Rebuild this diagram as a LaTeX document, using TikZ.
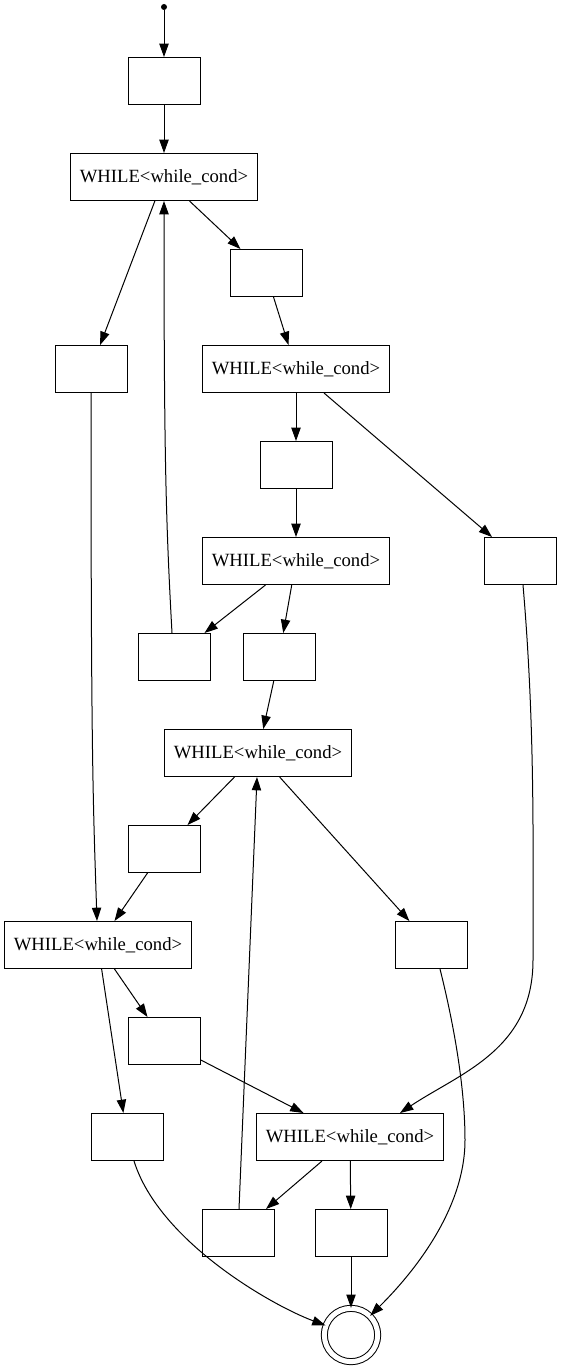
\documentclass[tikz,border=0pt]{standalone}
\usepackage{fontspec}
\setmainfont{Liberation Serif}
\usetikzlibrary{arrows.meta}

\begin{document}
\begin{tikzpicture}[x=0.75pt, y=-0.75pt, >={Triangle[length=10pt,width=7pt]},
    line width=0.75pt,
    blk/.style={draw, rectangle, minimum width=54pt, minimum height=35.25pt, inner xsep=7pt,
        font=\fontsize{14}{16}\selectfont},
    flow/.style={->}]
    \useasboundingbox (0,0) rectangle (562,1370);

    \node[circle, fill, inner sep=0pt, minimum size=4.5pt] (start) at (164,7) {};
    \node[blk] (b1) at (164,81) {};
    \node[blk] (w1) at (164,177) {WHILE<while\_cond>};
    \node[blk] (b2) at (266,273) {};
    \node[blk] (b3) at (91,369) {};
    \node[blk] (w2) at (296,369) {WHILE<while\_cond>};
    \node[blk] (b4) at (296,465) {};
    \node[blk] (w3) at (296,561) {WHILE<while\_cond>};
    \node[blk] (b5) at (520,561) {};
    \node[blk] (b6) at (174,657) {};
    \node[blk] (b7) at (279,657) {};
    \node[blk] (w4) at (258,753) {WHILE<while\_cond>};
    \node[blk] (b8) at (164,849) {};
    \node[blk] (w5) at (98,945) {WHILE<while\_cond>};
    \node[blk] (b9) at (431,945) {};
    \node[blk] (b10) at (164,1041) {};
    \node[blk] (b11) at (127,1137) {};
    \node[blk] (w6) at (350,1137) {WHILE<while\_cond>};
    \node[blk] (b12) at (238,1233) {};
    \node[blk] (b13) at (351,1233) {};
    \node[draw, circle, double, double distance=3.75pt, minimum size=40pt, inner sep=0pt] (stop) at (351,1335) {};

    \draw[flow] (start) -- (b1);
    \draw[flow] (b1) -- (w1);
    \draw[flow] (w1) -- (b2);
    \draw[flow] (w1) -- (b3);
    \draw[flow] (b2) -- (w2);
    \draw[flow] (w2) -- (b4);
    \draw[flow] (w2) -- (b5);
    \draw[flow] (b4) -- (w3);
    \draw[flow] (w3) -- (b6);
    \draw[flow] (w3) -- (b7);
    \draw[flow] ([xshift=-1.5pt]b6.north) .. controls +(-6,-110) and +(0,260) .. (w1.south);
    \draw[flow] (b7) -- (w4);
    \draw[flow] (w4) -- (b8);
    \draw[flow] (w4) -- (b9);
    \draw[flow] (b3.south) .. controls +(0,360) and +(-4,-120) .. ([xshift=-0.75pt]w5.north);
    \draw[flow] (b8) -- (w5);
    \draw[flow] (w5) -- (b10);
    \draw[flow] (w5) -- (b11);
    \draw[flow] (b10) -- (w6);
    \draw[flow] ([xshift=2.25pt]b5.south) .. controls +(12,140) and +(0,-120) .. (533,960)
        .. controls +(0,90) and +(60,-40) .. ([xshift=37.5pt]w6.north);
    \draw[flow] (w6) -- (b12);
    \draw[flow] (w6) -- (b13);
    \draw[flow] (b12) -- (w4);
    \draw[flow] ([xshift=5.25pt]b11.south) .. controls +(25,80) and +(-80,-30) .. (stop);
    \draw[flow] (b13) -- (stop);
    \draw[flow] ([xshift=6.75pt]b9.south) .. controls +(15,60) and +(0,-50) .. (465,1140)
        .. controls +(0,80) and +(45,-45) .. (stop);
\end{tikzpicture}
\end{document}
